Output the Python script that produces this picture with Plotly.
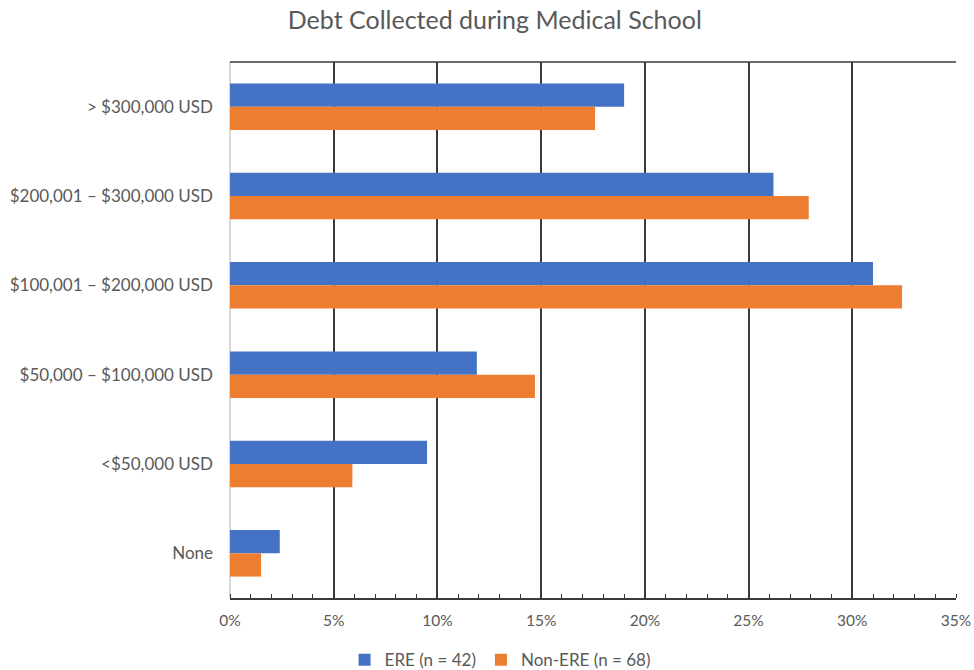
import plotly.graph_objects as go

# Debt ranges, listed top to bottom as displayed
categories = [
    "> $300,000 USD",
    "$200,001 – $300,000 USD",
    "$100,001 – $200,000 USD",
    "$50,000 – $100,000 USD",
    "<$50,000 USD",
    "None",
]
ere_share = [0.190, 0.262, 0.310, 0.119, 0.095, 0.024]
non_ere_share = [0.176, 0.279, 0.324, 0.147, 0.059, 0.015]
series_names = ["ERE (n = 42)", "Non-ERE (n = 68)"]
x_ticks = [0, 0.05, 0.10, 0.15, 0.20, 0.25, 0.30, 0.35]

BLUE = "#4472C4"
ORANGE = "#ED7D31"
TEXT = "#595959"
GRID = "#3a3a3a"
FONT = "Lato, 'Open Sans', sans-serif"

fig = go.Figure()
fig.add_trace(go.Bar(y=categories, x=ere_share, name=series_names[0], orientation="h",
                     marker=dict(color=BLUE, line=dict(width=0))))
fig.add_trace(go.Bar(y=categories, x=non_ere_share, name=series_names[1], orientation="h",
                     marker=dict(color=ORANGE, line=dict(width=0))))

fig.update_layout(
    width=974, height=670,
    margin=dict(l=230, r=18, t=62, b=72, autoexpand=False),
    paper_bgcolor="white", plot_bgcolor="white",
    barmode="group", bargap=0.48, bargroupgap=0,
    font=dict(family=FONT, color=TEXT, size=15),
    title=dict(text="Debt Collected during Medical School", x=0.508, xanchor="center",
               y=0.97, yanchor="middle", font=dict(size=25, color=TEXT, family=FONT)),
    legend=dict(orientation="h", x=0.372, xanchor="center", y=-0.116, yanchor="middle",
                font=dict(size=17, color=TEXT), itemwidth=30, traceorder="normal"),
    showlegend=True,
)

fig.update_xaxes(
    range=[0, 0.35], tickvals=x_ticks, tickformat=".0%", automargin=False,
    showgrid=True, gridcolor=GRID, gridwidth=1.5,
    zeroline=True, zerolinecolor="#d9d9d9", zerolinewidth=1.5,
    showline=True, linecolor=GRID, linewidth=1.5,
    ticks="", ticklabelstandoff=8,
    minor=dict(dtick=0.01, tick0=0, ticks="inside", ticklen=4, tickcolor=GRID,
               tickwidth=1.3, showgrid=False),
    tickfont=dict(size=15.5, color=TEXT),
    fixedrange=True,
)
fig.update_yaxes(
    autorange="reversed", showgrid=False, zeroline=False, showline=False, automargin=False,
    ticks="", ticklabelstandoff=16, tickfont=dict(size=17, color=TEXT),
)

# Top border of the plotting area
fig.add_shape(type="line", xref="paper", yref="paper", x0=0, x1=1, y0=1, y1=1,
              line=dict(color=GRID, width=1.5))

fig.write_html("out.html")
